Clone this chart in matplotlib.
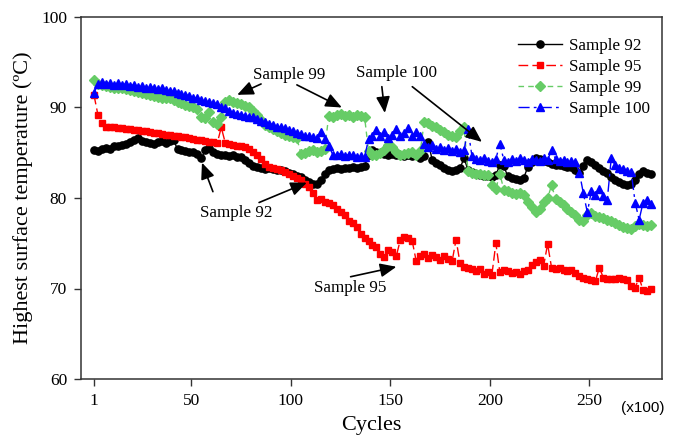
import numpy as np
import matplotlib
matplotlib.use("Agg")
import matplotlib.pyplot as plt

cycles = list(range(1, 282, 2))

sample92 = [85.3, 85.2, 85.4, 85.5, 85.4, 85.7, 85.8, 85.9, 86.0, 86.2, 86.4, 86.6, 86.3, 86.2, 86.1,
            86.0, 86.2, 86.3, 86.1, 86.3, 86.4, 85.4, 85.3, 85.2, 85.1, 85.1, 84.9, 84.4, 85.3, 85.5,
            85.1, 84.9, 84.8, 84.7, 84.6, 84.7, 84.5, 84.5, 84.2, 83.9, 83.5, 83.4, 83.3, 83.2, 83.3,
            83.2, 83.1, 83.1, 83.0, 82.8, 82.6, 82.4, 82.3, 82.0, 81.8, 81.6, 81.6, 82.0, 82.6, 83.1,
            83.2, 83.3, 83.2, 83.3, 83.3, 83.4, 83.3, 83.4, 83.5, 84.8, 85.3, 85.1, 85.0, 84.9, 84.8,
            84.9, 84.7, 84.8, 84.6, 84.7, 84.6, 84.8, 84.4, 84.6, 86.2, 84.2, 83.9, 83.6, 83.3, 83.1,
            83.0, 83.1, 83.3, 84.4, 83.1, 82.9, 82.7, 82.5, 82.4, 82.4, 82.3, 82.5, 83.7, 83.5, 82.4,
            82.2, 82.1, 82.0, 82.2, 83.4, 84.0, 84.4, 84.3, 84.1, 84.0, 83.8, 83.7, 83.6, 83.5, 83.4,
            83.4, 83.1, 82.8, 83.5, 84.2, 84.0, 83.6, 83.3, 83.0, 82.8, 82.3, 82.0, 81.8, 81.5, 81.4,
            81.5, 82.0, 82.7, 83.0, 82.8, 82.7]

sample95 = [91.4, 89.2, 88.3, 87.9, 87.8, 87.8, 87.7, 87.7, 87.6, 87.6, 87.5, 87.5, 87.4, 87.4, 87.3,
            87.2, 87.2, 87.1, 87.0, 87.0, 86.9, 86.8, 86.7, 86.7, 86.6, 86.5, 86.4, 86.4, 86.3, 86.2,
            86.2, 86.1, 87.8, 86.1, 86.0, 85.9, 85.8, 85.7, 85.6, 85.4, 85.1, 84.7, 84.3, 83.8, 83.4,
            83.3, 83.2, 83.1, 82.9, 82.6, 82.4, 82.2, 82.0, 81.6, 81.2, 80.5, 79.8, 79.9, 79.6, 79.4,
            79.2, 78.8, 78.4, 78.1, 77.5, 77.2, 76.8, 76.0, 75.6, 75.3, 74.8, 74.6, 73.8, 73.5, 74.2,
            74.0, 73.6, 75.4, 75.7, 75.6, 75.2, 73.0, 73.6, 73.8, 73.4, 73.7, 73.5, 73.2, 73.6, 73.3,
            73.0, 75.4, 72.8, 72.4, 72.3, 72.1, 71.9, 72.2, 71.6, 71.8, 71.5, 75.0, 71.8, 72.0, 71.9,
            71.7, 71.8, 71.6, 71.9, 72.0, 72.6, 72.9, 73.1, 72.5, 74.9, 72.3, 72.2, 72.3, 72.0, 71.9,
            72.0, 71.7, 71.4, 71.2, 71.0, 70.9, 70.8, 72.3, 71.2, 71.0, 71.1, 71.0, 71.2, 71.0, 70.9,
            70.3, 70.1, 71.2, 69.8, 69.7, 69.9]

sample99 = [93.0, 92.6, 92.5, 92.4, 92.3, 92.2, 92.2, 92.1, 92.0, 91.9, 91.8, 91.7, 91.6, 91.5, 91.4,
            91.3, 91.2, 91.1, 91.0, 91.0, 90.8, 90.6, 90.5, 90.3, 90.2, 90.0, 89.8, 89.0, 88.8, 89.5,
            88.4, 88.2, 89.0, 90.6, 90.8, 90.6, 90.5, 90.4, 90.2, 90.0, 89.6, 89.2, 88.6, 88.1, 87.8,
            87.6, 87.4, 87.2, 87.0, 86.9, 86.7, 86.6, 84.9, 85.0, 85.2, 85.3, 85.1, 85.2, 85.4, 89.1,
            89.0, 89.2, 89.3, 89.1, 89.2, 89.0, 89.2, 89.1, 89.0, 85.2, 84.8, 84.7, 85.0, 85.3, 85.9,
            85.6, 85.1, 84.8, 84.9, 85.0, 85.1, 84.8, 85.2, 88.4, 88.3, 88.0, 87.8, 87.5, 87.3, 87.0,
            86.8, 86.7, 87.4, 87.8, 83.0, 82.8, 82.6, 82.6, 82.5, 82.5, 81.4, 81.0, 82.7, 80.9, 80.8,
            80.6, 80.4, 80.6, 80.3, 79.6, 79.0, 78.5, 78.8, 79.6, 80.0, 81.4, 79.9, 79.6, 79.2, 78.8,
            78.4, 78.1, 77.6, 77.5, 78.1, 78.3, 78.0, 77.9, 77.8, 77.6, 77.5, 77.2, 77.0, 76.8, 76.7,
            76.6, 76.9, 77.1, 77.0, 76.9, 77.0]

sample100 = [91.6, 92.6, 92.8, 92.6, 92.7, 92.5, 92.7, 92.5, 92.6, 92.4, 92.5, 92.3, 92.4, 92.2, 92.3,
             92.2, 92.0, 92.1, 91.9, 91.8, 91.8, 91.6, 91.5, 91.4, 91.3, 91.1, 91.0, 90.8, 90.7, 90.6,
             90.5, 90.4, 90.1, 89.9, 89.6, 89.4, 89.3, 89.2, 89.1, 89.0, 88.9, 88.7, 88.5, 88.4, 88.2,
             88.1, 87.9, 87.8, 87.7, 87.5, 87.4, 87.2, 87.1, 86.9, 86.8, 86.7, 86.6, 87.3, 86.5, 85.8,
             84.8, 84.7, 84.9, 84.6, 84.8, 84.7, 84.5, 84.6, 84.5, 86.5, 86.9, 87.5, 86.8, 87.3, 86.6,
             87.0, 87.6, 86.8, 87.2, 87.7, 86.9, 87.3, 86.9, 86.0, 85.6, 85.9, 85.4, 85.6, 85.3, 85.5,
             85.2, 85.4, 85.1, 85.3, 87.6, 84.6, 84.3, 84.2, 84.4, 84.1, 84.0, 84.3, 86.0, 84.2, 84.0,
             84.3, 84.1, 84.4, 84.2, 84.0, 84.3, 84.2, 84.1, 84.4, 84.2, 85.3, 84.3, 84.1, 84.2, 84.0,
             84.1, 84.0, 82.8, 80.5, 78.4, 80.8, 80.3, 81.0, 80.2, 79.8, 84.4, 83.6, 83.3, 83.2, 83.0,
             82.9, 79.5, 77.6, 79.5, 79.8, 79.3]

labels = ["Sample 92", "Sample 95", "Sample 99", "Sample 100"]
xticks = [1, 50, 100, 150, 200, 250]
yticks = [60, 70, 80, 90, 100]

serif = ["Liberation Serif", "DejaVu Serif"]
plt.rcParams["font.family"] = serif

fig = plt.figure(figsize=(6.79, 4.38), dpi=100)
ax = fig.add_axes([81/679, 1-379/438, (662-81)/679, (379-17)/438])

ax.plot(cycles, sample92, color="black", ls="-", lw=1.0, marker="o", ms=5.2,
        mfc="black", mec="black", label=labels[0])
ax.plot(cycles, sample95, color="#ff0000", ls=(0, (7, 3)), lw=1.0, marker="s", ms=5.0,
        mfc="#ff0000", mec="#ff0000", label=labels[1])
ax.plot(cycles, sample99, color="#66cc66", ls=(0, (4, 3)), lw=1.0, marker="D", ms=4.6,
        mfc="#66cc66", mec="#66cc66", label=labels[2])
ax.plot(cycles, sample100, color="#0000ff", ls=(0, (8, 3, 2, 3)), lw=1.0, marker="^", ms=6.0,
        mfc="#0000ff", mec="#0000ff", label=labels[3])

ax.set_xlim(-5.5, 286.5)
ax.set_ylim(60, 100)
ax.set_xticks(xticks)
ax.set_yticks(yticks)
ax.tick_params(direction="out", length=5, width=1.0, labelsize=12.5, pad=5, color="#333333")
for sp in ax.spines.values():
    sp.set_linewidth(1.1)
    sp.set_color("#333333")

ax.set_xlabel("Cycles", fontsize=16, labelpad=5)
ax.set_ylabel("Highest surface temperature (ºC)", fontsize=16, labelpad=6)

fig.text(643/679, 1-408/438, "(x100)", fontsize=11, family=["Liberation Sans", "DejaVu Sans"],
         ha="center", va="center")

leg = ax.legend(loc="upper left", bbox_to_anchor=(0.752, 0.941), frameon=False, fontsize=12.3,
                handlelength=2.6, handletextpad=0.4, labelspacing=0.28, borderpad=0,
                borderaxespad=0)

arrow = dict(arrowstyle="-|>,head_length=0.7,head_width=0.3", color="black", lw=1.2,
             shrinkA=0, shrinkB=0, mutation_scale=14)
fs = 12.3
# Sample 92
ax.text(72.4, 78.3, "Sample 92", fontsize=fs, ha="center", va="center")
ax.annotate("", xy=(55.3, 83.9), xytext=(60.8, 80.7), arrowprops=arrow)
ax.annotate("", xy=(108, 81.7), xytext=(84, 79.5), arrowprops=arrow)
# Sample 95
ax.text(130, 70.1, "Sample 95", fontsize=fs, ha="center", va="center")
ax.annotate("", xy=(153, 72.4), xytext=(130, 71.3), arrowprops=arrow)
# Sample 99
ax.text(99, 93.6, "Sample 99", fontsize=fs, ha="center", va="center")
ax.annotate("", xy=(73, 91.4), xytext=(85, 92.6), arrowprops=arrow)
ax.annotate("", xy=(125.6, 90.0), xytext=(103, 92.5), arrowprops=arrow)
# Sample 100
ax.text(153, 93.8, "Sample 100", fontsize=fs, ha="center", va="center")
ax.annotate("", xy=(147.2, 89.4), xytext=(145.7, 92.3), arrowprops=arrow)
ax.annotate("", xy=(196, 86.2), xytext=(161, 92.3), arrowprops=arrow)

fig.savefig("out.png", dpi=100)
